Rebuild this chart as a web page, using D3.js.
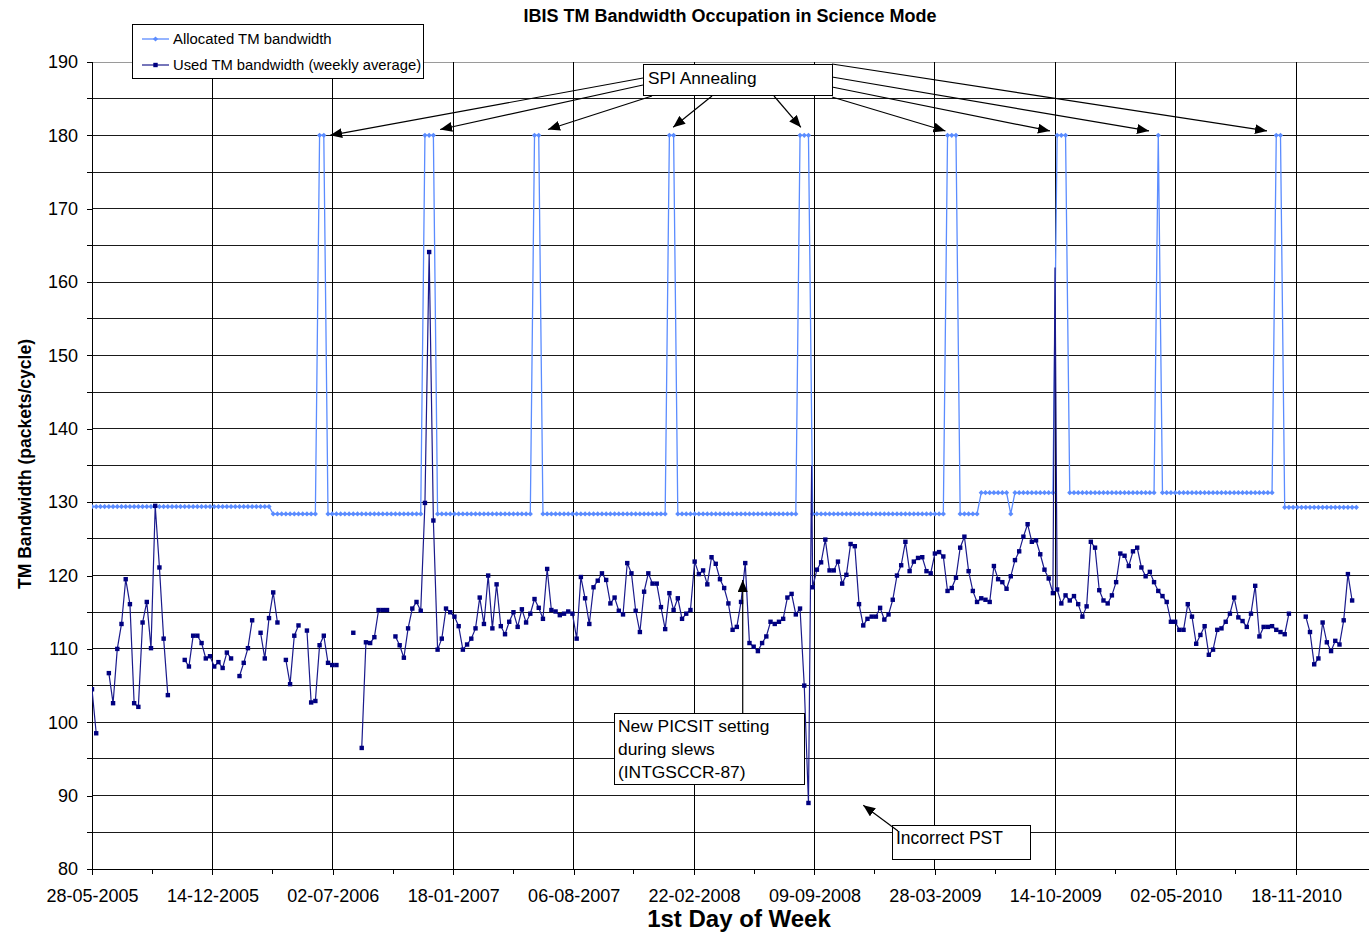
<!DOCTYPE html>
<html><head><meta charset="utf-8">
<script src="https://cdn.jsdelivr.net/npm/d3@7"></script>
<style>
body{margin:0;background:#fff}
svg{display:block}
text{font-family:"Liberation Sans",Arial,sans-serif;fill:#000}
</style>
</head><body>
<svg id="chart" width="1369" height="932"></svg>
<script>
// ---------------- DATA ----------------
const firstWeek = "28-05-2005";          // date of week index 0
const xTickLabels = ["28-05-2005","14-12-2005","02-07-2006","18-01-2007","06-08-2007",
  "22-02-2008","09-09-2008","28-03-2009","14-10-2009","02-05-2010","18-11-2010"];
const yTickValues = [80,90,100,110,120,130,140,150,160,170,180,190];

// Used TM bandwidth (weekly average), one value per week, null = no data
const usedWk000 = [104.5,98.5,null,null,106.7,102.6,110.0,113.4,119.5,116.1,
  102.6,102.1,113.6,116.4,110.1,129.5,121.1,111.4,103.7,null,
  null,null,108.5,107.6,111.8,111.8,110.8,108.7,109.0,107.6,
  108.2,107.4,109.5,108.7,null,106.3,108.1,110.1,113.9,null,
  112.2,108.7,114.2,117.7,113.6,null,108.5,105.2,111.8,113.2];
const usedWk050 = [null,112.5,102.7,102.9,110.5,111.8,108.1,107.8,107.8,null,
  null,null,112.2,null,96.5,110.9,110.8,111.6,115.3,115.3,
  115.3,null,111.7,110.5,108.8,112.8,115.5,116.4,115.2,129.9,
  164.1,127.5,109.9,111.4,115.5,115.0,114.4,113.1,109.9,110.6,
  111.4,112.8,117.0,113.4,120.0,112.8,118.8,113.1,112.0,113.7];
const usedWk100 = [115.0,113.0,115.4,113.6,114.8,116.8,115.6,114.1,120.9,115.3,
  115.1,114.6,114.8,115.1,114.8,111.4,119.8,116.9,113.4,118.4,
  119.3,120.3,119.4,116.2,117.0,115.2,114.7,121.7,120.3,115.2,
  112.3,117.8,120.3,118.9,118.9,115.7,112.7,117.6,115.3,116.9,
  114.1,114.8,115.3,121.9,120.2,120.7,118.8,122.5,121.6,119.5];
const usedWk150 = [118.3,116.2,112.6,113.0,116.4,121.7,110.8,110.3,109.7,110.8,
  111.7,113.7,113.4,113.7,114.1,117.0,117.5,114.7,115.5,105.0,
  89.0,118.4,120.8,121.8,124.9,120.7,120.7,121.9,118.9,120.1,
  124.3,124.0,116.1,113.2,114.1,114.4,114.4,115.6,114.0,114.7,
  116.7,120.0,121.4,124.6,120.6,121.9,122.4,122.5,120.6,120.3];
const usedWk200 = [123.0,123.2,122.6,117.9,118.3,119.7,123.8,125.3,120.6,117.9,
  116.4,116.9,116.7,116.4,121.3,119.5,119.1,118.2,119.9,122.1,
  123.3,125.3,127.0,124.6,124.8,122.9,120.8,119.6,117.6,118.1,
  116.2,117.3,116.6,117.2,116.1,114.4,115.8,124.6,123.8,118.0,
  116.6,116.2,117.3,119.1,123.0,122.7,121.3,123.3,123.8,121.1];
const usedWk250 = [119.9,120.5,119.1,117.9,117.2,116.4,113.7,113.7,112.6,112.6,
  116.1,114.4,110.7,111.9,113.1,109.2,109.9,112.6,112.8,113.7,
  114.8,117.0,114.3,113.8,113.0,114.8,118.6,111.7,113.0,113.0,
  113.1,112.6,112.3,112.0,114.8,null,null,null,114.4,112.3,
  107.9,108.7,113.6,110.9,109.7,111.1,110.6,113.9,120.2,116.6];
// extra un-marked samples between weeks: [fractional week index, value]
const usedExtra = [[170.75,135.0],[228.5,162.0]];

// Allocated TM bandwidth, as [value, number of consecutive weeks]
const allocatedRuns = [[129.4,43],[128.4,11],[180,2],[128.4,23],[180,3],[128.4,23],
  [180,2],[128.4,30],[180,2],[128.4,29],[180,3],[128.4,32],[180,3],[128.4,5],
  [131.3,7],[128.4,1],[131.3,10],[180,3],[131.3,21],[180,1],[131.3,27],[180,2],[129.3,18]];

// annotation arrow tips in data units: [week index, value]
const annealingTips = [[56.5,180],[82.6,180.8],[108.2,180.8],[137.9,181.1],[168.2,181.1],
  [202.5,180.6],[227.3,180.6],[250.8,180.6],[278.8,180.6]];
const picsitTip = [154.4,119.4];
const pstTip = [183.0,88.7];

const seriesNames = ["Allocated TM bandwidth","Used TM bandwidth (weekly average)"];
const titleText = "IBIS TM Bandwidth Occupation in Science Mode";
const yTitle = "TM Bandwidth (packets/cycle)";
const xTitle = "1st Day of Week";

// ---------------- BUILD ----------------
const parse = d3.utcParse("%d-%m-%Y");
const fmt = d3.utcFormat("%d-%m-%Y");
const t0 = parse(firstWeek);
const weekDate = w => new Date(t0.getTime() + w*7*86400000);

const usedVals = [].concat(usedWk000,usedWk050,usedWk100,usedWk150,usedWk200,usedWk250);
const used = usedVals.map((v,i)=>({w:i, d:weekDate(i), v, m:true}));
const usedLine = used.concat(usedExtra.map(([w,v])=>({w, d:weekDate(w), v, m:false})))
  .sort((a,b)=>a.w-b.w);
const allocVals = [];
allocatedRuns.forEach(([v,n])=>{ for(let k=0;k<n;k++) allocVals.push(v); });
const alloc = allocVals.map((v,i)=>({d:weekDate(i), v}));

const L = 92, T = 62, B = 869, R = 1372;
const tickDates = xTickLabels.map(parse);
const pxPerDay = (1296 - 92) / d3.utcDay.count(tickDates[0], tickDates[10]);
const x = d3.scaleUtc()
  .domain([tickDates[0], d3.utcDay.offset(tickDates[0], Math.round((R-L)/pxPerDay))])
  .range([L, R]);
const y = d3.scaleLinear().domain([80,190]).range([B, T]);

const svg = d3.select("#chart");
svg.append("rect").attr("width",1369).attr("height",932).attr("fill","#fff");

// grid
const g = svg.append("g");
g.selectAll("line.h").data(d3.range(85,190,5)).join("line")
  .attr("x1",L).attr("x2",R).attr("y1",d=>y(d)).attr("y2",d=>y(d))
  .attr("stroke","#1a1a1a").attr("stroke-width",1).attr("shape-rendering","crispEdges");
g.append("line").attr("x1",L).attr("x2",R).attr("y1",y(190)).attr("y2",y(190))
  .attr("stroke","#9a9a9a").attr("shape-rendering","crispEdges");
g.selectAll("line.v").data(tickDates).join("line")
  .attr("x1",d=>x(d)).attr("x2",d=>x(d)).attr("y1",T).attr("y2",B)
  .attr("stroke","#000").attr("shape-rendering","crispEdges");

// axes
const xAxis = d3.axisBottom(x).tickValues(tickDates).tickFormat(fmt).tickSize(6).tickPadding(14);
const gx = svg.append("g").attr("transform",`translate(0,${B})`).call(xAxis);
gx.select(".domain").attr("d",`M${L},0H${R}`).attr("stroke","#000").attr("shape-rendering","crispEdges");
gx.selectAll(".tick line").attr("stroke","#000").attr("shape-rendering","crispEdges");
gx.selectAll("text").attr("font-size",18).attr("font-family","Liberation Sans, Arial").attr("fill","#111");
const midDates = d3.range(10).map(k=>new Date((tickDates[k].getTime()+tickDates[k+1].getTime())/2));
svg.append("g").selectAll("line").data(midDates).join("line")
  .attr("x1",d=>x(d)).attr("x2",d=>x(d)).attr("y1",B).attr("y2",B+5)
  .attr("stroke","#000").attr("shape-rendering","crispEdges");

const yAxis = d3.axisLeft(y).tickValues(yTickValues).tickSize(5).tickPadding(9);
const gy = svg.append("g").attr("transform",`translate(${L},0)`).call(yAxis);
gy.select(".domain").attr("d",`M0,${T}V${B}`).attr("stroke","#000").attr("shape-rendering","crispEdges");
gy.selectAll(".tick line").attr("stroke","#000").attr("shape-rendering","crispEdges");
gy.selectAll("text").attr("font-size",18).attr("font-family","Liberation Sans, Arial").attr("fill","#111");
svg.append("g").selectAll("line").data(d3.range(85,190,10)).join("line")
  .attr("x1",L-5).attr("x2",L).attr("y1",d=>y(d)).attr("y2",d=>y(d))
  .attr("stroke","#000").attr("shape-rendering","crispEdges");

// series
const allocColor = "#5b8cff", usedColor = "#000080";
svg.append("clipPath").attr("id","clip").append("rect")
  .attr("x",L).attr("y",T-4).attr("width",R-L).attr("height",B-T+8);
const sg = svg.append("g").attr("clip-path","url(#clip)");
const line = d3.line().defined(d=>d.v!=null).x(d=>x(d.d)).y(d=>y(d.v));
sg.append("path").datum(alloc).attr("d",line).attr("fill","none")
  .attr("stroke",allocColor).attr("stroke-width",1.3);
const diamond = "M0,-2.6L2.6,0L0,2.6L-2.6,0Z";
sg.selectAll("path.am").data(alloc).join("path").attr("class","am")
  .attr("d",diamond).attr("transform",d=>`translate(${x(d.d)},${y(d.v)})`)
  .attr("fill",allocColor);
sg.append("path").datum(usedLine).attr("d",line).attr("fill","none")
  .attr("stroke","#1a1a8c").attr("stroke-width",1.2);
sg.selectAll("rect.um").data(used.filter(d=>d.v!=null)).join("rect").attr("class","um")
  .attr("x",d=>x(d.d)-2.2).attr("y",d=>y(d.v)-2.2).attr("width",4.4).attr("height",4.4)
  .attr("fill",usedColor);

// arrow marker
svg.append("defs").append("marker").attr("id","arr").attr("markerUnits","userSpaceOnUse")
  .attr("viewBox","0 0 12 10").attr("refX",12).attr("refY",5)
  .attr("markerWidth",12).attr("markerHeight",10).attr("orient","auto")
  .append("path").attr("d","M0,0L12,5L0,10Z").attr("fill","#000");

// SPI annealing annotation
const spiStarts = [[643,78],[643,85],[652,96],[712,96],[774,96],[832,97],[832,87],[832,77],[832,64]];
const ag = svg.append("g");
annealingTips.forEach((tp,k)=>{
  ag.append("line").attr("x1",spiStarts[k][0]).attr("y1",spiStarts[k][1])
    .attr("x2",x(weekDate(tp[0]))).attr("y2",y(tp[1]))
    .attr("stroke","#000").attr("stroke-width",1.2).attr("marker-end","url(#arr)");
});
ag.append("rect").attr("x",643.5).attr("y",64.5).attr("width",189).attr("height",31)
  .attr("fill","#fff").attr("stroke","#000");
ag.append("text").attr("x",648).attr("y",84).attr("font-size",17.3).text("SPI Annealing");

// PICSIT annotation
ag.append("line").attr("x1",x(weekDate(picsitTip[0]))).attr("y1",713)
  .attr("x2",x(weekDate(picsitTip[0]))).attr("y2",y(picsitTip[1]))
  .attr("stroke","#000").attr("stroke-width",1.2).attr("marker-end","url(#arr)");
ag.append("rect").attr("x",614.5).attr("y",713.5).attr("width",190).attr("height",71)
  .attr("fill","#fff").attr("stroke","#000");
ag.append("text").attr("x",618).attr("y",732).attr("font-size",17.4).text("New PICSIT setting");
ag.append("text").attr("x",618).attr("y",755).attr("font-size",17.4).text("during slews");
ag.append("text").attr("x",618).attr("y",778).attr("font-size",17.4).text("(INTGSCCR-87)");

// Incorrect PST annotation
ag.append("rect").attr("x",892.5).attr("y",825.5).attr("width",138).attr("height",34)
  .attr("fill","#fff").attr("stroke","#000");
ag.append("text").attr("x",896).attr("y",844).attr("font-size",17.5).text("Incorrect PST");
ag.append("line").attr("x1",898).attr("y1",831)
  .attr("x2",x(weekDate(pstTip[0]))).attr("y2",y(pstTip[1]))
  .attr("stroke","#000").attr("stroke-width",1.2).attr("marker-end","url(#arr)");

// legend
const lg = svg.append("g");
lg.append("rect").attr("x",132.5).attr("y",24.5).attr("width",291).attr("height",54)
  .attr("fill","#fff").attr("stroke","#000");
lg.append("line").attr("x1",142).attr("x2",169).attr("y1",39).attr("y2",39).attr("stroke",allocColor).attr("stroke-width",1.3);
lg.append("path").attr("d",diamond).attr("transform","translate(155.5,39)").attr("fill",allocColor);
lg.append("line").attr("x1",142).attr("x2",169).attr("y1",65).attr("y2",65).attr("stroke","#1a1a8c").attr("stroke-width",1.2);
lg.append("rect").attr("x",153.3).attr("y",62.8).attr("width",4.4).attr("height",4.4).attr("fill",usedColor);
lg.append("text").attr("x",173).attr("y",43.5).attr("font-size",14.9).text(seriesNames[0]);
lg.append("text").attr("x",173).attr("y",69.5).attr("font-size",14.8).text(seriesNames[1]);

// titles
svg.append("text").attr("x",730).attr("y",22).attr("text-anchor","middle")
  .attr("font-size",18).attr("font-weight","bold").text(titleText);
svg.append("text").attr("transform","translate(31,464) rotate(-90)").attr("text-anchor","middle")
  .attr("font-size",17.5).attr("font-weight","bold").text(yTitle);
svg.append("text").attr("x",739).attr("y",927).attr("text-anchor","middle")
  .attr("font-size",24).attr("font-weight","bold").text(xTitle);
</script>
</body></html>
